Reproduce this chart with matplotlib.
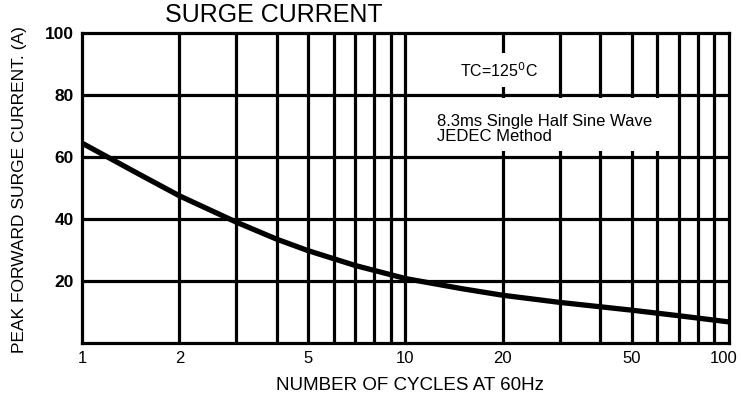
import matplotlib
matplotlib.use("Agg")
import matplotlib.pyplot as plt
import matplotlib.transforms as mtransforms
from matplotlib.patches import Rectangle
from matplotlib.ticker import FixedLocator, NullFormatter

plt.rcParams['font.family'] = ['Liberation Sans', 'DejaVu Sans']

cycles = [1, 1.5, 2, 3, 4, 5, 7, 10, 15, 20, 30, 50, 70, 100]
current = [64.5, 54.5, 47.5, 39.0, 33.5, 29.8, 25.0, 20.8, 17.5, 15.4, 13.1, 10.6, 8.8, 6.8]
xticks = [1, 2, 5, 10, 20, 50, 100]
xticklabels = ["1", "2", "5", "10", "20", "50", "100"]
xgrid = [2, 3, 4, 5, 6, 7, 8, 9, 10, 20, 30, 40, 50, 60, 70, 80, 90]
yticks = [20, 40, 60, 80, 100]
ygrid = [20, 40, 60, 80]

fig = plt.figure(figsize=(7.41, 4.04), dpi=100)
ax = fig.add_axes([0.1107, 0.151, 0.873, 0.767])
ax.set_xscale('log')
ax.set_xlim(1, 100)
ax.set_ylim(0, 100)

for xv in xgrid:
    ax.axvline(xv, color='black', lw=2.3, zorder=0.5)
for yv in ygrid:
    ax.axhline(yv, color='black', lw=2.3, zorder=0.5)

ax.plot(cycles, current, color='black', lw=3.8, zorder=3,
        solid_capstyle='butt', solid_joinstyle='round')

ax.xaxis.set_major_locator(FixedLocator(xticks))
ax.set_xticklabels(xticklabels)
ax.xaxis.set_minor_formatter(NullFormatter())
ax.set_yticks(yticks)
ax.set_yticklabels([str(v) for v in yticks], fontweight='bold', fontsize=12.5)
ax.tick_params(axis='both', which='both', length=0)
ax.tick_params(axis='x', labelsize=12, pad=6)
ax.tick_params(axis='y', pad=6)
for s in ax.spines.values():
    s.set_linewidth(2.3)

# keep the last x tick label inside the figure
last = ax.get_xticklabels()[-1]
last.set_transform(last.get_transform() +
                   mtransforms.ScaledTranslation(-5 / 100, 0, fig.dpi_scale_trans))

# white boxes behind annotations
ax.add_patch(Rectangle((0.504, 0.62), 0.405, 0.172, transform=ax.transAxes,
                       facecolor='white', edgecolor='none', zorder=1))
ax.add_patch(Rectangle((0.57, 0.826), 0.15, 0.11, transform=ax.transAxes,
                       facecolor='white', edgecolor='none', zorder=1))
ax.text(0.644, 0.88, "TC=125$^0$C", transform=ax.transAxes, fontsize=11.5,
        ha='center', va='center', zorder=2)
ax.text(0.549, 0.69, "8.3ms Single Half Sine Wave\nJEDEC Method",
        transform=ax.transAxes, fontsize=12, ha='left', va='center', zorder=2,
        linespacing=0.95)

fig.text(0.222, 0.963, "SURGE CURRENT", fontsize=18, ha='left', va='center')
fig.text(0.553, 0.047, "NUMBER OF CYCLES AT 60Hz", fontsize=13.5, ha='center', va='center')
fig.text(0.026, 0.53, "PEAK FORWARD SURGE CURRENT. (A)", fontsize=12.5,
         rotation=90, ha='center', va='center')

fig.savefig("out.png", dpi=100)
